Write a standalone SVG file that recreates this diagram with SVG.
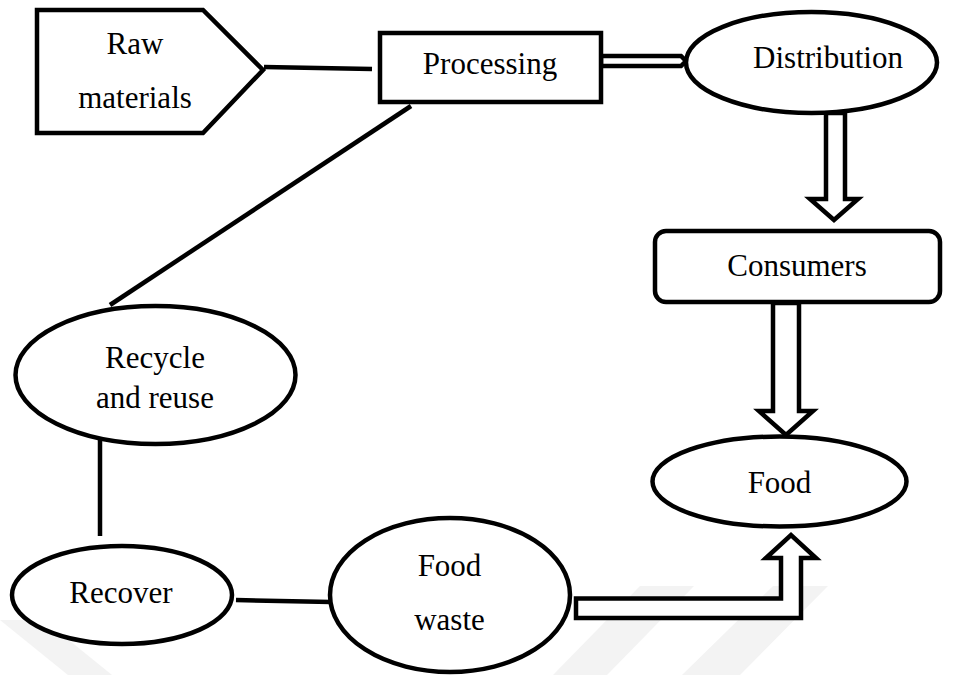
<svg xmlns="http://www.w3.org/2000/svg" width="963" height="675" viewBox="0 0 963 675">
  <style>
    .shape { fill: #ffffff; stroke: #000000; stroke-width: 4.5; stroke-linejoin: miter; }
    .link { fill: none; stroke: #000000; stroke-width: 4.5; }
    .block { fill: #ffffff; stroke: #000000; stroke-width: 4.5; stroke-linejoin: miter; }
    .label { font-family: "Liberation Serif", "Times New Roman", serif; font-size: 31px; fill: #000000; text-anchor: middle; }
    .mark { fill: #f3f3f3; stroke: none; }
  </style>
  <rect width="963" height="675" fill="#ffffff"/>

  <!-- faint background stripes along the bottom edge -->
  <g id="background">
    <polygon class="mark" points="0,620 44,620 112,675 68,675"/>
    <polygon class="mark" points="640,586 694,586 607,675 553,675"/>
    <polygon class="mark" points="773,586 828,586 740,675 682,675"/>
  </g>

  <!-- connectors -->
  <g id="connectors">
    <line class="link" x1="264" y1="67" x2="372" y2="69"/>
    <line class="link" x1="411" y1="106" x2="110" y2="305"/>
    <line class="link" x1="100" y1="434" x2="100" y2="536"/>
    <line class="link" x1="236" y1="600" x2="331" y2="602"/>
    <!-- Processing to Distribution: narrow open bar -->
    <polygon class="block" stroke-width="3.5" points="601,56 681,56 686,61 681,66 601,66"/>
    <!-- Distribution to Consumers -->
    <polygon class="block" points="826,113 845,113 845,199 858,199 834,220 810,199 826,199"/>
    <!-- Consumers to Food -->
    <polygon class="block" points="773,303 799,303 799,411 813,411 786,435 759,411 773,411"/>
    <!-- Food waste to Food: bent arrow -->
    <polygon class="block" points="576,598.5 781,598.5 781,558 766,558 791,535 816,558 801,558 801,618 576,618"/>
  </g>

  <g id="raw-materials">
    <polygon class="shape" points="37,10 203,10 263,70 203,133 37,133"/>
    <text class="label" x="135" y="54">Raw</text>
    <text class="label" x="135" y="108">materials</text>
  </g>

  <g id="processing">
    <rect class="shape" x="380" y="33" width="221" height="69"/>
    <text class="label" x="490" y="74">Processing</text>
  </g>

  <g id="distribution">
    <ellipse class="shape" cx="811.5" cy="62.5" rx="125.5" ry="50.5"/>
    <text class="label" x="828" y="68">Distribution</text>
  </g>

  <g id="consumers">
    <rect class="shape" x="655" y="231" width="285" height="71" rx="11" ry="11"/>
    <text class="label" x="797" y="276">Consumers</text>
  </g>

  <g id="food">
    <ellipse class="shape" cx="779.5" cy="481.5" rx="127" ry="45"/>
    <text class="label" x="779.5" y="493">Food</text>
  </g>

  <g id="recycle-reuse">
    <ellipse class="shape" cx="155.5" cy="375" rx="140" ry="69"/>
    <text class="label" x="155" y="368">Recycle</text>
    <text class="label" x="155" y="408">and reuse</text>
  </g>

  <g id="recover">
    <ellipse class="shape" cx="122" cy="595" rx="110" ry="49"/>
    <text class="label" x="121" y="603">Recover</text>
  </g>

  <g id="food-waste">
    <ellipse class="shape" cx="450" cy="595" rx="120" ry="77"/>
    <text class="label" x="449.5" y="576">Food</text>
    <text class="label" x="449.5" y="630">waste</text>
  </g>
</svg>
